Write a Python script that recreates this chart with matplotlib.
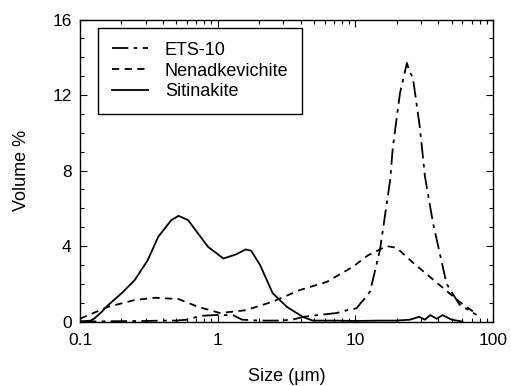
import numpy as np
import matplotlib
matplotlib.use("Agg")
import matplotlib.pyplot as plt
from matplotlib.ticker import FixedLocator, LogLocator, MultipleLocator, FuncFormatter, NullFormatter

plt.rcParams['font.family'] = ['Liberation Sans', 'DejaVu Sans']

# particle size distributions (size in um, volume %)
ets_x = [0.1, 0.2, 0.3, 0.4, 0.5, 0.6, 0.75, 1.0, 1.3, 1.5, 2.0, 2.8, 3.5, 4.2, 5.3,
         7.3, 8.7, 10.2, 11.0, 12.0, 12.8, 15.1, 17.9, 18.7, 21.1, 23.7, 24.6, 26.2,
         29.4, 32.0, 36.7, 46.0, 57.0, 76.0]
ets_y = [0.0, 0.02, 0.03, 0.05, 0.05, 0.1, 0.3, 0.35, 0.33, 0.1, 0.05, 0.05, 0.1, 0.25, 0.34,
         0.45, 0.6, 0.7, 1.0, 1.3, 1.6, 3.8, 7.5, 9.2, 12.1, 13.7, 13.3, 12.9,
         10.3, 7.7, 5.2, 2.0, 0.9, 0.35]

nen_x = [0.1, 0.16, 0.25, 0.35, 0.52, 0.72, 1.04, 1.6, 2.5, 3.96, 6.2, 9.6, 12.3,
         16.9, 20.0, 26.4, 41.0, 57.0, 76.0]
nen_y = [0.15, 0.78, 1.14, 1.26, 1.19, 0.78, 0.45, 0.6, 1.05, 1.67, 2.1, 2.9, 3.5,
         4.0, 3.9, 3.1, 1.93, 1.05, 0.4]

sit_x = [0.1, 0.12, 0.128, 0.144, 0.16, 0.2, 0.25, 0.31, 0.37, 0.46, 0.52, 0.61, 0.85,
         1.1, 1.35, 1.6, 1.75, 2.03, 2.51, 3.19, 4.17, 4.9, 7.0, 10.0, 15.0, 20.0, 25.0,
         29.0, 32.0, 35.0, 39.0, 43.0, 50.0, 60.0]
sit_y = [0.0, 0.05, 0.18, 0.52, 0.87, 1.49, 2.2, 3.25, 4.49, 5.37, 5.6, 5.37, 3.96,
         3.34, 3.55, 3.82, 3.75, 3.0, 1.5, 0.77, 0.24, 0.05, 0.05, 0.03, 0.05, 0.05, 0.1,
         0.25, 0.1, 0.34, 0.15, 0.34, 0.1, 0.0]

fig = plt.figure(figsize=(5.11, 3.86), dpi=100)
ax = fig.add_axes([0.1566, 0.167, 0.8082, 0.7824])

ax.plot(ets_x, ets_y, color='black', lw=1.3, dashes=(9, 3, 2, 3), label='ETS-10')
ax.plot(nen_x, nen_y, color='black', lw=1.3, dashes=(4, 3), label='Nenadkevichite')
ax.plot(sit_x, sit_y, color='black', lw=1.3, label='Sitinakite')

ax.set_xscale('log')
ax.set_xlim(0.1, 100)
ax.set_ylim(0, 16)
ax.xaxis.set_major_locator(FixedLocator([0.1, 1, 10, 100]))
ax.xaxis.set_major_formatter(FuncFormatter(lambda v, p: '%g' % v))
ax.xaxis.set_minor_locator(LogLocator(base=10, subs=np.arange(2, 10)))
ax.xaxis.set_minor_formatter(NullFormatter())
ax.yaxis.set_major_locator(MultipleLocator(4))
ax.yaxis.set_minor_locator(MultipleLocator(1))

ax.tick_params(which='both', direction='in', top=True, right=True, labelsize=12.5, width=0.8)
ax.tick_params(which='major', length=5)
ax.tick_params(which='minor', length=3)
ax.tick_params(axis='x', which='major', pad=8)
ax.tick_params(axis='y', which='major', pad=6)
for s in ax.spines.values():
    s.set_linewidth(1.0)

ax.set_xlabel('Size (\u03bcm)', fontsize=13, labelpad=15)
ax.set_ylabel('Volume %', fontsize=13, labelpad=16)

leg = ax.legend(loc='upper left', bbox_to_anchor=(0.0436, 0.972), fontsize=13,
                fancybox=False, framealpha=1, edgecolor='black', handlelength=2.0,
                borderpad=0.75, labelspacing=0.22, handletextpad=0.95, borderaxespad=0)
leg.get_frame().set_linewidth(1.0)

fig.savefig('out.png', dpi=100)
